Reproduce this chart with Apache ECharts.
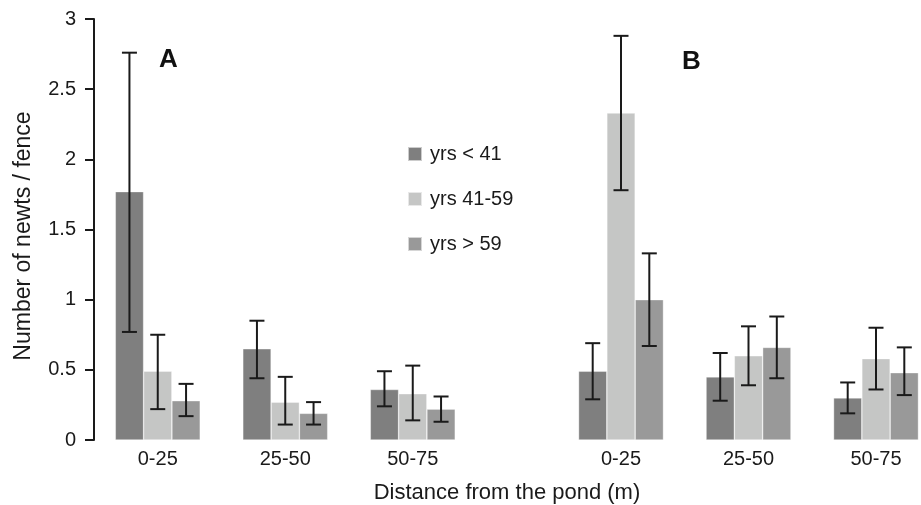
<!DOCTYPE html>
<html>
<head>
<meta charset="UTF-8">
<title>Newts per fence</title>
<script src="https://cdn.jsdelivr.net/npm/echarts@6/dist/echarts.min.js"></script>
<style>
  html, body { margin: 0; padding: 0; background: #fff; }
  #chart { width: 921px; height: 505px; }
</style>
</head>
<body>
<div id="chart"></div>
<script>
// distance classes (same for panel A and B)
const categories = ['0-25', '25-50', '50-75'];
const seriesNames = ['yrs < 41', 'yrs 41-59', 'yrs > 59'];
const colors = ['#7f7f7f', '#c5c6c5', '#999999'];
const yTicks = [0, 0.5, 1, 1.5, 2, 2.5, 3];

// panel A: means and error bar ends, one array per age class
const meanA = [[1.77, 0.65, 0.36], [0.49, 0.27, 0.33], [0.28, 0.19, 0.22]];
const lowA  = [[0.77, 0.44, 0.24], [0.22, 0.11, 0.14], [0.17, 0.11, 0.13]];
const highA = [[2.76, 0.85, 0.49], [0.75, 0.45, 0.53], [0.40, 0.27, 0.31]];

// panel B
const meanB = [[0.49, 0.45, 0.30], [2.33, 0.60, 0.58], [1.00, 0.66, 0.48]];
const lowB  = [[0.29, 0.28, 0.19], [1.78, 0.39, 0.36], [0.67, 0.44, 0.32]];
const highB = [[0.69, 0.62, 0.41], [2.88, 0.81, 0.80], [1.33, 0.88, 0.66]];

const barFrac = 0.222;
const font = 'Liberation Sans, Arial, sans-serif';
const ink = '#1a1a1a';

const chart = echarts.init(document.getElementById('chart'));

function errorSeries(gridIdx, k, low, high) {
  return {
    type: 'custom',
    xAxisIndex: gridIdx,
    yAxisIndex: gridIdx,
    z: 10,
    silent: true,
    data: categories.map((c, i) => [i, low[k][i], high[k][i]]),
    renderItem: function (params, api) {
      const band = api.size([1, 0])[0];
      const off = (k - 1) * band * barFrac;
      const lo = api.coord([api.value(0), api.value(1)]);
      const hi = api.coord([api.value(0), api.value(2)]);
      const x = lo[0] + off;
      const half = 7.5;
      const style = { stroke: ink, lineWidth: 2 };
      return {
        type: 'group',
        children: [
          { type: 'line', shape: { x1: x, y1: lo[1], x2: x, y2: hi[1] }, style: style },
          { type: 'line', shape: { x1: x - half, y1: lo[1], x2: x + half, y2: lo[1] }, style: style },
          { type: 'line', shape: { x1: x - half, y1: hi[1], x2: x + half, y2: hi[1] }, style: style }
        ]
      };
    }
  };
}

const series = [];
[[meanA, lowA, highA], [meanB, lowB, highB]].forEach(function (p, g) {
  seriesNames.forEach(function (name, k) {
    series.push({
      name: name,
      type: 'bar',
      xAxisIndex: g,
      yAxisIndex: g,
      data: p[0][k],
      barWidth: (barFrac * 100) + '%',
      barGap: '0%',
      itemStyle: { color: colors[k], borderColor: 'rgba(255,255,255,0.6)', borderWidth: 0.6 }
    });
  });
  seriesNames.forEach(function (name, k) {
    series.push(errorSeries(g, k, p[1], p[2]));
  });
});

function xAxisFor(g) {
  return {
    type: 'category',
    gridIndex: g,
    data: categories,
    axisLine: { show: false },
    axisTick: { show: false },
    axisLabel: { color: ink, fontSize: 20, fontFamily: font, margin: 9 }
  };
}

const option = {
  animation: false,
  color: colors,
  grid: [
    { left: 94, top: 19, width: 382.5, height: 421, outerBoundsMode: 'none' },
    { left: 557.25, top: 19, width: 382.5, height: 421, outerBoundsMode: 'none' }
  ],
  legend: {
    data: seriesNames,
    orient: 'vertical',
    left: 407,
    top: 144,
    padding: 0,
    itemWidth: 14,
    itemHeight: 14,
    itemGap: 25,
    icon: 'rect',
    textStyle: { color: ink, fontSize: 20, fontFamily: font, padding: [0, 0, 0, 3] }
  },
  xAxis: [xAxisFor(0), xAxisFor(1)],
  yAxis: [
    {
      type: 'value',
      gridIndex: 0,
      min: yTicks[0],
      max: yTicks[yTicks.length - 1],
      interval: 0.5,
      splitLine: { show: false },
      axisLine: { show: true, lineStyle: { color: ink, width: 2 } },
      axisTick: { show: true, length: 9, lineStyle: { color: ink, width: 2 } },
      axisLabel: { color: ink, fontSize: 20, fontFamily: font, margin: 18 }
    },
    {
      type: 'value',
      gridIndex: 1,
      min: 0,
      max: 3,
      interval: 0.5,
      show: false,
      splitLine: { show: false }
    }
  ],
  graphic: [
    { type: 'text', left: 159, top: 47, style: { text: 'A', fontSize: 26, fontWeight: 'bold', fontFamily: font, fill: '#111' } },
    { type: 'text', left: 682, top: 49, style: { text: 'B', fontSize: 26, fontWeight: 'bold', fontFamily: font, fill: '#111' } },
    { type: 'text', x: 507, y: 493, style: { text: 'Distance from the pond (m)', fontSize: 22, fontFamily: font, fill: ink, textAlign: 'center', textVerticalAlign: 'middle' } },
    { type: 'text', x: 24, y: 236, rotation: Math.PI / 2, style: { text: 'Number of newts / fence', fontSize: 23, fontFamily: font, fill: ink, textAlign: 'center', textVerticalAlign: 'middle' } }
  ],
  series: series
};

chart.setOption(option);
</script>
</body>
</html>
